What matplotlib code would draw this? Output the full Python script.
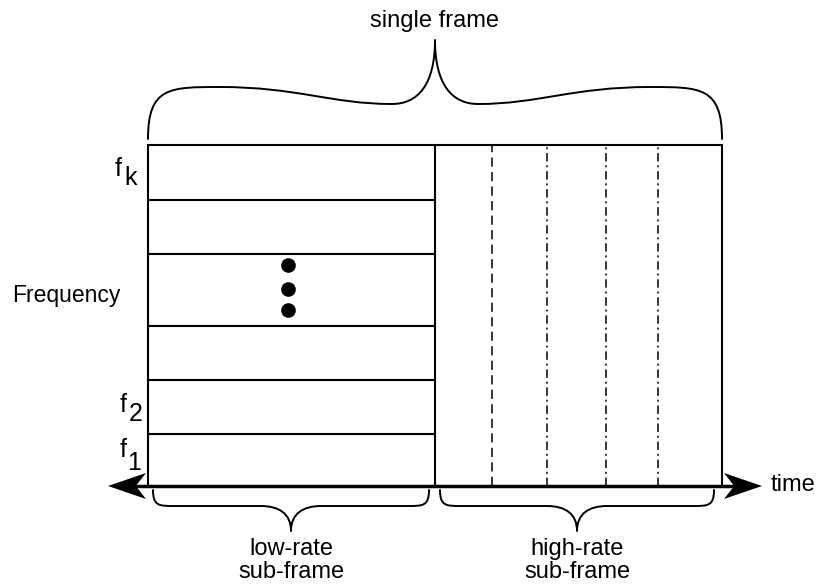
import numpy as np
import matplotlib.pyplot as plt
from matplotlib.path import Path
from matplotlib.patches import PathPatch, Polygon

plt.rcParams['font.family'] = ['Liberation Sans', 'DejaVu Sans']

# frame layout: time in fractions of one frame, frequency in fractions of the band
band_edges = [0.0, 0.153, 0.312, 0.468, 0.679, 0.838, 1.0]
split_time = 0.5
slot_times = [0.60, 0.695, 0.798, 0.889]
slot_styles = ["dash", "dashdot", "dashdot", "dashdot"]
dot_time = 0.244
dot_freqs = [0.647, 0.579, 0.515]
f_labels = ["k", "2", "1"]

# frame -> pixel scale (figure is drawn in pixel units, origin top-left)
X0, X1 = 148, 722
Y0, Y1 = 486, 145


def tx(t):
    return X0 + (X1 - X0) * np.asarray(t)


def fy(f):
    return Y0 - (Y0 - Y1) * np.asarray(f)


def brace(ax, x0, x1, y_end, y_sh, y_dip, y_tip, sh=0.12, cusp=0.16, lw=1.4):
    """curly brace between x0 and x1, ends at y_end, tip at y_tip"""
    xm = (x0 + x1) / 2
    L = xm - x0
    a, b = sh * L, cusp * L
    pts = [(x0, y_end),
           (x0, y_sh), (x0 + a * 0.3, y_sh), (x0 + a, y_sh),
           (x0 + a + (L - a - b) * 0.45, y_sh), (xm - b - (L - a - b) * 0.35, y_dip), (xm - b, y_dip),
           (xm - b * 0.4, y_dip), (xm, y_dip + (y_tip - y_dip) * 0.3), (xm, y_tip)]
    rpts = [(2 * xm - x, y) for x, y in pts[::-1]]
    verts = pts + rpts[1:]
    codes = [Path.MOVETO] + [Path.CURVE4] * 18
    ax.add_patch(PathPatch(Path(verts, codes), fill=False, lw=lw, color="black",
                           capstyle="round", joinstyle="round"))


def arrow_head(ax, xtip, y, direction, L=38, W=13):
    d = direction
    poly = [(xtip, y), (xtip - d * L, y - W), (xtip - d * 0.73 * L, y),
            (xtip - d * L, y + W)]
    ax.add_patch(Polygon(poly, closed=True, color="black", lw=0))


fig = plt.figure(figsize=(8.18, 5.85), dpi=100)
ax = fig.add_axes([0, 0, 1, 1])
ax.set_xlim(0, 818)
ax.set_ylim(585, 0)
ax.axis("off")

LW = 1.5
# outer frame
ax.plot(tx([0, 1]), fy([1, 1]), color="black", lw=LW)
ax.plot(tx([0, 0]), fy([0, 1]), color="black", lw=LW)
ax.plot(tx([1, 1]), fy([0, 1]), color="black", lw=LW)
ax.plot(tx([split_time, split_time]), fy([0, 1]), color="black", lw=LW)

# frequency bands of the low-rate sub-frame
for e in band_edges[1:-1]:
    ax.plot(tx([0, split_time]), fy([e, e]), color="black", lw=LW)

# slots of the high-rate sub-frame
for t, s in zip(slot_times, slot_styles):
    ln, = ax.plot(tx([t, t]), fy([0, 1]), color="black", lw=1.1)
    if s == "dash":
        ln.set_dashes((6, 3.5))
    else:
        ln.set_dashes((5.5, 2.5, 1.3, 2.5))

# ellipsis dots
ax.plot(tx([dot_time] * 3), fy(dot_freqs), "o", color="black", ms=9.5)

# time axis
ax.plot([130, 740], [Y0, Y0], color="black", lw=2.5)
arrow_head(ax, 108, Y0, -1)
arrow_head(ax, 762, Y0, 1)

FS = 17
ax.text(771, 491, "time", fontsize=FS, ha="left", va="baseline")

# frequency labels
f_pos = {"k": (118, 176, 131, 185), "2": (123, 412, 136, 421), "1": (123, 457, 134, 470)}
for lab in f_labels:
    fx, fb, sx, sb = f_pos[lab]
    ax.text(fx, fb, "f", fontsize=18, ha="center", va="baseline")
    ax.text(sx, sb, lab, fontsize=18, ha="center", va="baseline")
ax.text(12, 302, "Frequency", fontsize=16.5, ha="left", va="baseline")

# braces
brace(ax, tx(0), tx(1), 139, 87, 104, 40, sh=0.25, cusp=0.15)
ax.text(tx(0.5), 27, "single frame", fontsize=FS, ha="center", va="baseline")

brace(ax, 153, 429, 490, 506, 506, 531, sh=0.15, cusp=0.22)
brace(ax, 440, 714, 490, 506, 506, 531, sh=0.15, cusp=0.22)
ax.text(291, 555, "low-rate", fontsize=FS, ha="center", va="baseline")
ax.text(291, 578, "sub-frame", fontsize=FS, ha="center", va="baseline")
ax.text(577, 555, "high-rate", fontsize=FS, ha="center", va="baseline")
ax.text(577, 578, "sub-frame", fontsize=FS, ha="center", va="baseline")

fig.savefig("out.png", dpi=100)
